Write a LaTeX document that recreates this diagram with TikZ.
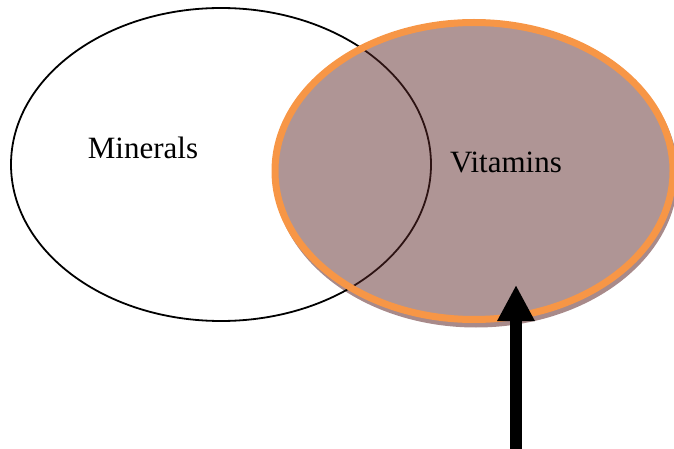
\documentclass[tikz,border=0pt]{standalone}
\usepackage{fontspec}
\setmainfont{Liberation Serif}
\usetikzlibrary{shapes.geometric,arrows.meta}
\definecolor{vitfill}{RGB}{92,40,40}
\definecolor{vitorange}{RGB}{247,150,70}
\definecolor{vitshadow}{RGB}{168,138,138}
\begin{document}
\begin{tikzpicture}[x=1pt,y=-1pt,
  oval/.style={ellipse,inner sep=0pt,outer sep=0pt},
  lbl/.style={font=\fontsize{31}{37}\selectfont,anchor=base,inner sep=0pt}]
\useasboundingbox (0,0) rectangle (674,449);
% shadow of vitamins ellipse
\node[oval,fill=vitshadow,minimum width=404pt,minimum height=305pt] (shadow) at (476,175) {};
\node[oval,fill=white,minimum width=398pt,minimum height=297pt] (under) at (474,171) {};
% minerals ellipse
\node[oval,draw=black,line width=1.8pt,minimum width=420pt,minimum height=313pt] (min) at (221,164.5) {};
% vitamins ellipse
\node[oval,draw=vitorange,line width=7pt,fill=vitfill,fill opacity=0.49,minimum width=398pt,minimum height=297pt] (vit) at (474,171) {};
\node[lbl] (mtext) at (143,159) {Minerals};
\node[lbl] (vtext) at (506,172) {Vitamins};
% arrow
\coordinate (abot) at (516,449);
\coordinate (atip) at (516,285);
\draw[line width=12pt,-{Triangle[width=35pt,length=36pt]}] (abot) -- (atip);
\end{tikzpicture}
\end{document}
